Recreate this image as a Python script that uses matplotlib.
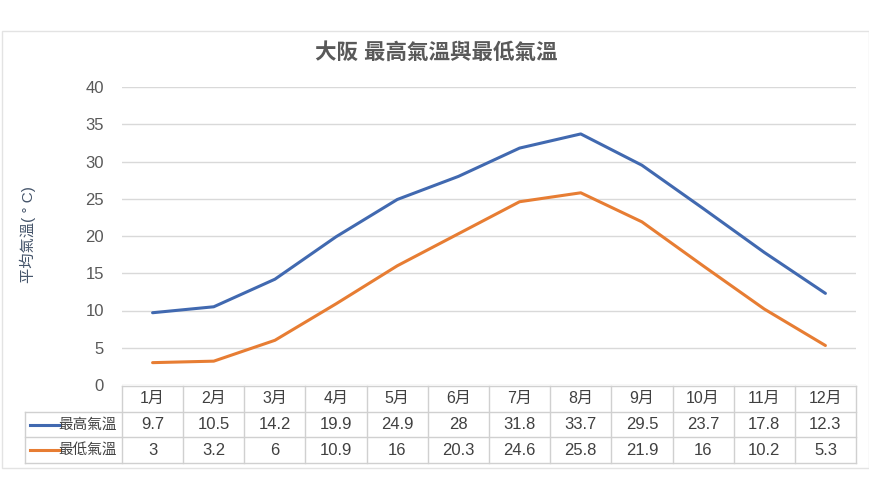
import matplotlib
matplotlib.use("Agg")
import matplotlib.pyplot as plt
from matplotlib.patches import Rectangle
import numpy as np

plt.rcParams['font.family'] = ['Liberation Sans', 'Noto Sans CJK TC', 'DejaVu Sans']

title = "大阪 最高氣溫與最低氣溫"
ylabel = "平均氣溫( ° C)"
months = ["1月", "2月", "3月", "4月", "5月", "6月", "7月", "8月", "9月", "10月", "11月", "12月"]
series_names = ["最高氣溫", "最低氣溫"]
high = [9.7, 10.5, 14.2, 19.9, 24.9, 28, 31.8, 33.7, 29.5, 23.7, 17.8, 12.3]
low = [3, 3.2, 6, 10.9, 16, 20.3, 24.6, 25.8, 21.9, 16, 10.2, 5.3]
colors = ["#4169b0", "#e77d33"]
yticks = [0, 5, 10, 15, 20, 25, 30, 35, 40]

W, H = 870, 500
fig = plt.figure(figsize=(W / 100, H / 100), dpi=100)
fig.patch.set_facecolor("white")

# outer chart border
fig.add_artist(Rectangle((2 / W, 1 - 468 / H), 867 / W, (468 - 31) / H,
                         transform=fig.transFigure, fill=False,
                         edgecolor="#e3e3e3", linewidth=1))

L, R = 122 / W, 856 / W
ax = fig.add_axes([L, 1 - 385 / H, R - L, (385 - 87) / H])
x = np.arange(len(months))
for vals, c in zip([high, low], colors):
    ax.plot(x, vals, color=c, linewidth=2.2, solid_capstyle="round")
ax.set_xlim(-0.5, len(months) - 0.5)
ax.set_ylim(0, 40)
ax.set_yticks(yticks)
ax.set_xticks([])
ax.grid(axis="y", color="#d9d9d9", linewidth=1)
ax.set_axisbelow(True)
for s in ax.spines.values():
    s.set_visible(False)
ax.tick_params(axis="y", length=0, pad=13, labelsize=12, labelcolor="#595959")

fig.text(28 / W, 1 - 235 / H, ylabel, rotation=90, ha="center", va="center",
         fontsize=11, color="#44546a")
fig.text(436 / W, 1 - 53 / H, title, ha="center", va="center",
         fontsize=15.5, fontweight="bold", color="#595959")

# data table
tax = fig.add_axes([L, 1 - 463 / H, R - L, (463 - 386) / H])
tax.set_xlim(-0.5, len(months) - 0.5)
tax.set_ylim(0, 3)
tax.axis("off")
col_w = (856 - 122) / len(months)
xl = -0.5 - (122 - 25) / col_w
gc = "#d0d0d0"
kw = dict(color=gc, linewidth=1, clip_on=False)
tax.plot([-0.5, len(months) - 0.5], [3, 3], **kw)
for yy in [2, 1, 0]:
    tax.plot([xl, len(months) - 0.5], [yy, yy], **kw)
for xx in np.arange(-0.5, len(months), 1.0):
    tax.plot([xx, xx], [0, 3], **kw)
tax.plot([xl, xl], [0, 2], **kw)

tc = "#404040"
for i, m in enumerate(months):
    tax.text(i, 2.5, m, ha="center", va="center", fontsize=11.5, color=tc)
for r, (name, vals, c) in enumerate(zip(series_names, [high, low], colors)):
    yy = 1.5 - r
    for i, v in enumerate(vals):
        tax.text(i, yy, f"{v:g}", ha="center", va="center", fontsize=12, color=tc)
    tax.plot([xl + 5 / col_w, xl + 35 / col_w], [yy, yy], color=c,
             linewidth=2.2, clip_on=False)
    tax.text(-0.5 - 5 / col_w, yy, name, ha="right", va="center",
             fontsize=10.5, color=tc)

fig.savefig("out.png", dpi=100)
